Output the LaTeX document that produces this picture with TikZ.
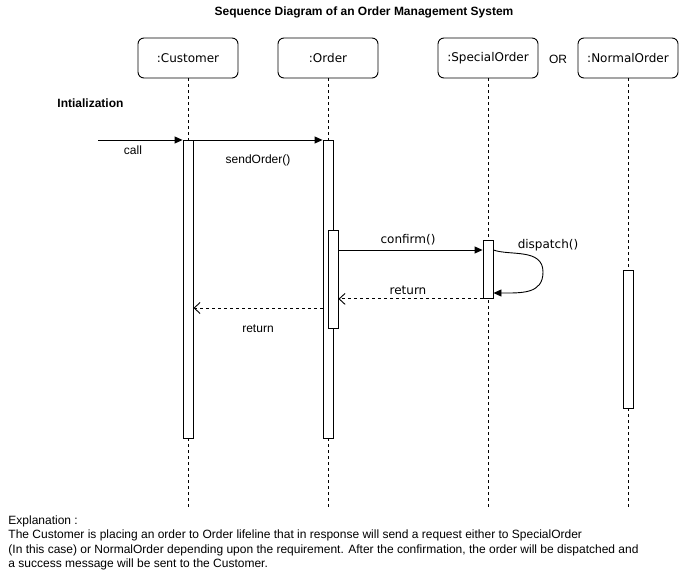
\documentclass[tikz,border=0pt]{standalone}
\usepackage{fontspec}
\setmainfont{Liberation Sans}
\newfontfamily\dvfont{DejaVu Sans}
\usetikzlibrary{positioning,arrows.meta}

\tikzset{
  head/.style={draw,rounded corners=6pt,minimum width=100pt,minimum height=40pt,inner sep=0pt,font=\dvfont\fontsize{12}{14}\selectfont},
  actbar/.style={draw,fill=white,minimum width=10pt,inner sep=0pt,anchor=north},
  life/.style={dash pattern=on 3pt off 3pt},
  msg/.style={-{Triangle[length=8pt,width=7pt]}},
  ret/.style={dash pattern=on 3pt off 3pt,-{Straight Barb[length=6pt,width=11pt]}},
  lbl/.style={font=\fontsize{12}{14}\selectfont,inner sep=0pt},
  dvlbl/.style={font=\dvfont\fontsize{12}{14}\selectfont,inner sep=0pt}
}

\begin{document}
\begin{tikzpicture}[x=1pt,y=-1pt,line width=0.9pt]
    \useasboundingbox (0,0) rectangle (679,575);

    \node[font=\bfseries\fontsize{12}{14}\selectfont] (title) at (364,12) {Sequence Diagram of an Order Management System};

    \node[head] (cust) at (188,58) {:Customer};
    \node[head] (ord) at (328,58) {:Order};
    \node[head] (spec) at (488,58) {:SpecialOrder};
    \node[head] (norm) at (628,58) {:NormalOrder};
    \node[lbl] (or) at (558,59) {OR};

    \coordinate (custend) at (188,510);
    \coordinate (ordend) at (328,510);
    \coordinate (specend) at (488,510);
    \coordinate (normend) at (628,510);
    \draw[life] (cust) -- (custend);
    \draw[life] (ord) -- (ordend);
    \draw[life] (spec) -- (specend);
    \draw[life] (norm) -- (normend);

    \node[font=\bfseries\fontsize{12}{14}\selectfont,anchor=west,inner sep=0pt] (init) at (57,103) {Intialization};

    \node[actbar,minimum height=298pt] (custbar) at (188,140) {};
    \node[actbar,minimum height=298pt] (ordbar) at (328,140) {};
    \node[actbar,minimum height=98pt] (confbar) at (333,230) {};
    \node[actbar,minimum height=58pt] (specbar) at (488,240) {};
    \node[actbar,minimum height=138pt] (normbar) at (628,270) {};

    \coordinate (callstart) at (98,140);
    \draw[msg] (callstart) -- (custbar.north west);
    \node[lbl] (calltxt) at (133,150) {call};

    \draw[msg] (custbar.north east) -- (ordbar.north west);
    \node[lbl] (sendtxt) at (258,160) {sendOrder()};

    \draw[msg] ([yshift=-20pt]confbar.north east) -- ([yshift=-10pt]specbar.north west);
    \node[dvlbl] (conftxt) at (408,240) {confirm()};

    \draw[msg] ([yshift=-10pt]specbar.north east) .. controls (510,256) and (543,248) .. (543,272)
        .. controls (543,294) and (522,293) .. ([yshift=-53pt]specbar.north east);
    \node[dvlbl] (disptxt) at (548,245) {dispatch()};

    \draw[ret] (specbar.south west) -- (specbar.south west -| confbar.east);
    \node[dvlbl] (ret1txt) at (408,290) {return};

    \draw[ret] ([yshift=-168pt]ordbar.north west) -- ([yshift=-168pt]custbar.north east);
    \node[lbl] (ret2txt) at (258,329) {return};

    \node[anchor=north west,align=left,inner sep=0pt,font=\fontsize{12}{14.6}\selectfont] (expl) at (8,515)
        {Explanation :\\
         The Customer is placing an order to Order lifeline that in response will send a request either to SpecialOrder\\
         (In this case) or NormalOrder depending upon the requirement. After the confirmation, the order will be dispatched and\\
         a success message will be sent to the Customer.};
\end{tikzpicture}
\end{document}
